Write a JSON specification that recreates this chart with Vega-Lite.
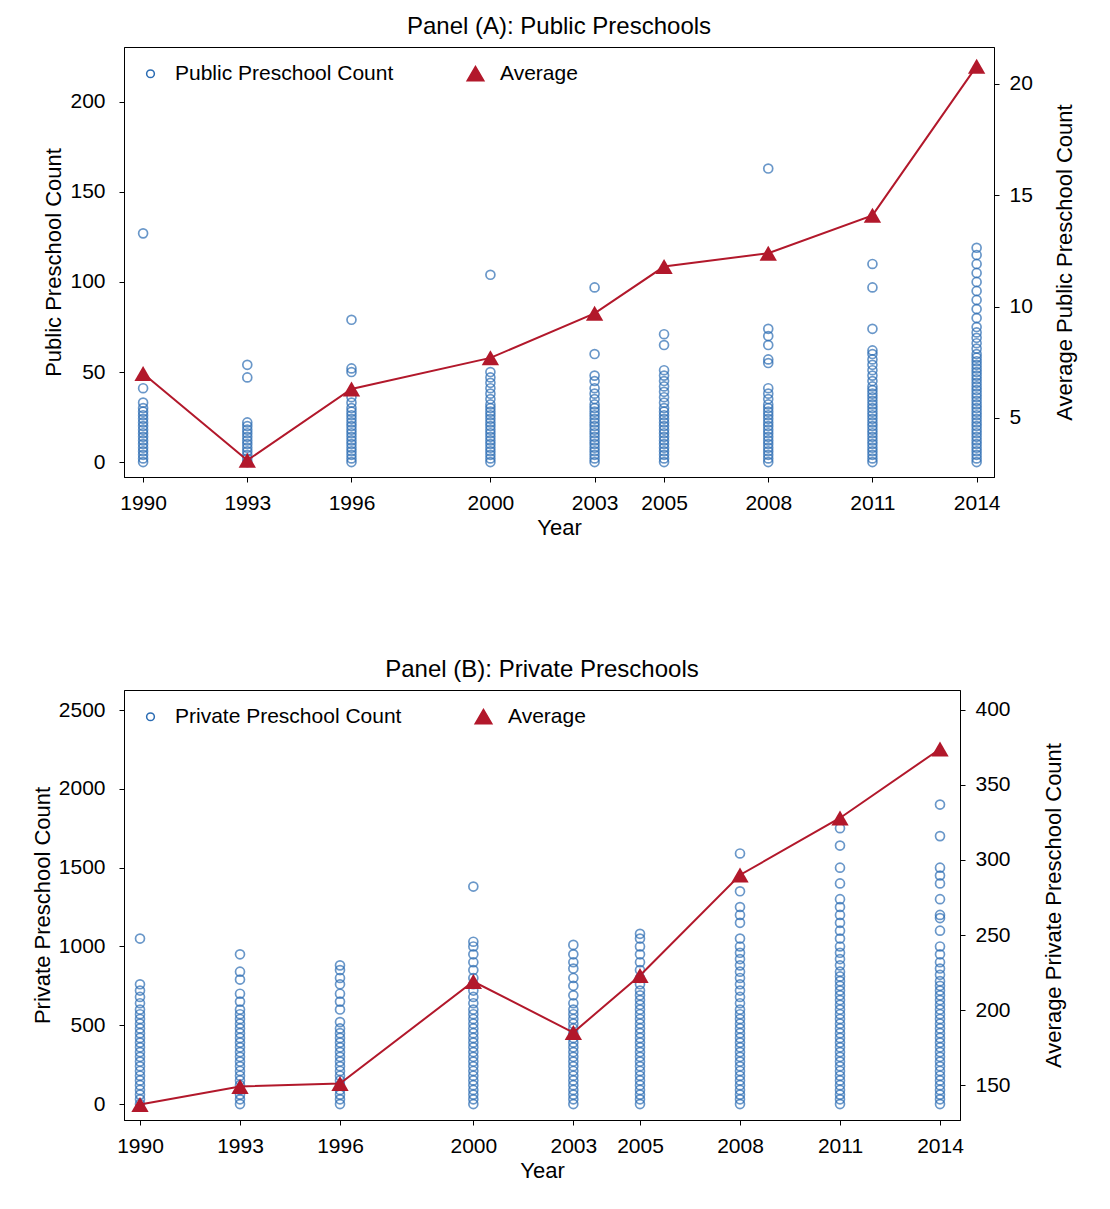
{
  "$schema": "https://vega.github.io/schema/vega-lite/v6.json",
  "background": "white",
  "padding": {"left": 30, "top": 14, "right": 5, "bottom": 5},
  "config": {
    "font": "Liberation Sans",
    "view": {"stroke": "black", "strokeWidth": 1},
    "axis": {"grid": false, "labelFontSize": 21, "titleFontSize": 22, "titleFontWeight": "normal", "labelColor": "black", "titleColor": "black", "domainColor": "black", "tickColor": "black", "labelFont": "Liberation Sans", "titleFont": "Liberation Sans", "format": "d"},
    "title": {"fontSize": 22, "fontWeight": "normal", "font": "Liberation Sans"},
    "legend": {"labelFontSize": 21, "labelFont": "Liberation Sans", "labelColor": "black", "labelLimit": 400, "symbolOpacity": 1, "symbolStrokeWidth": 1.5,
      "symbolSize": 250, "columnPadding": 70, "labelOffset": 14, "title": null, "orient": "top-left", "direction": "horizontal", "offset": 16}
  },
  "datasets": {
    "pub": [
      {"year":1990,"n":0},{"year":1990,"n":2},{"year":1990,"n":4},{"year":1990,"n":6},{"year":1990,"n":8},{"year":1990,"n":10},{"year":1990,"n":12},{"year":1990,"n":14},{"year":1990,"n":16},{"year":1990,"n":18},{"year":1990,"n":20},{"year":1990,"n":22},{"year":1990,"n":24},{"year":1990,"n":26},{"year":1990,"n":28},{"year":1990,"n":30},{"year":1990,"n":33},{"year":1990,"n":41},{"year":1990,"n":127},
      {"year":1993,"n":0},{"year":1993,"n":2},{"year":1993,"n":4},{"year":1993,"n":6},{"year":1993,"n":8},{"year":1993,"n":10},{"year":1993,"n":12},{"year":1993,"n":14},{"year":1993,"n":16},{"year":1993,"n":18},{"year":1993,"n":20},{"year":1993,"n":22},{"year":1993,"n":47},{"year":1993,"n":54},
      {"year":1996,"n":0},{"year":1996,"n":2},{"year":1996,"n":4},{"year":1996,"n":6},{"year":1996,"n":8},{"year":1996,"n":10},{"year":1996,"n":12},{"year":1996,"n":14},{"year":1996,"n":16},{"year":1996,"n":18},{"year":1996,"n":20},{"year":1996,"n":22},{"year":1996,"n":24},{"year":1996,"n":26},{"year":1996,"n":28},{"year":1996,"n":30},{"year":1996,"n":33},{"year":1996,"n":36},{"year":1996,"n":50},{"year":1996,"n":52},{"year":1996,"n":79},
      {"year":2000,"n":0},{"year":2000,"n":2},{"year":2000,"n":4},{"year":2000,"n":6},{"year":2000,"n":8},{"year":2000,"n":10},{"year":2000,"n":12},{"year":2000,"n":14},{"year":2000,"n":16},{"year":2000,"n":18},{"year":2000,"n":20},{"year":2000,"n":22},{"year":2000,"n":24},{"year":2000,"n":26},{"year":2000,"n":28},{"year":2000,"n":30},{"year":2000,"n":32},{"year":2000,"n":35},{"year":2000,"n":38},{"year":2000,"n":41},{"year":2000,"n":44},{"year":2000,"n":47},{"year":2000,"n":50},{"year":2000,"n":104},
      {"year":2003,"n":0},{"year":2003,"n":2},{"year":2003,"n":4},{"year":2003,"n":6},{"year":2003,"n":8},{"year":2003,"n":10},{"year":2003,"n":12},{"year":2003,"n":14},{"year":2003,"n":16},{"year":2003,"n":18},{"year":2003,"n":20},{"year":2003,"n":22},{"year":2003,"n":24},{"year":2003,"n":26},{"year":2003,"n":28},{"year":2003,"n":30},{"year":2003,"n":32},{"year":2003,"n":35},{"year":2003,"n":38},{"year":2003,"n":41},{"year":2003,"n":45},{"year":2003,"n":48},{"year":2003,"n":60},{"year":2003,"n":97},
      {"year":2005,"n":0},{"year":2005,"n":2},{"year":2005,"n":4},{"year":2005,"n":6},{"year":2005,"n":8},{"year":2005,"n":10},{"year":2005,"n":12},{"year":2005,"n":14},{"year":2005,"n":16},{"year":2005,"n":18},{"year":2005,"n":20},{"year":2005,"n":22},{"year":2005,"n":24},{"year":2005,"n":26},{"year":2005,"n":28},{"year":2005,"n":30},{"year":2005,"n":33},{"year":2005,"n":36},{"year":2005,"n":39},{"year":2005,"n":42},{"year":2005,"n":45},{"year":2005,"n":48},{"year":2005,"n":51},{"year":2005,"n":65},{"year":2005,"n":71},
      {"year":2008,"n":0},{"year":2008,"n":2},{"year":2008,"n":4},{"year":2008,"n":6},{"year":2008,"n":8},{"year":2008,"n":10},{"year":2008,"n":12},{"year":2008,"n":14},{"year":2008,"n":16},{"year":2008,"n":18},{"year":2008,"n":20},{"year":2008,"n":22},{"year":2008,"n":24},{"year":2008,"n":26},{"year":2008,"n":28},{"year":2008,"n":30},{"year":2008,"n":32},{"year":2008,"n":35},{"year":2008,"n":38},{"year":2008,"n":41},{"year":2008,"n":55},{"year":2008,"n":57},{"year":2008,"n":65},{"year":2008,"n":70},{"year":2008,"n":74},{"year":2008,"n":163},
      {"year":2011,"n":0},{"year":2011,"n":2},{"year":2011,"n":4},{"year":2011,"n":6},{"year":2011,"n":8},{"year":2011,"n":10},{"year":2011,"n":12},{"year":2011,"n":14},{"year":2011,"n":16},{"year":2011,"n":18},{"year":2011,"n":20},{"year":2011,"n":22},{"year":2011,"n":24},{"year":2011,"n":26},{"year":2011,"n":28},{"year":2011,"n":30},{"year":2011,"n":32},{"year":2011,"n":34},{"year":2011,"n":36},{"year":2011,"n":38},{"year":2011,"n":40},{"year":2011,"n":42},{"year":2011,"n":45},{"year":2011,"n":48},{"year":2011,"n":51},{"year":2011,"n":54},{"year":2011,"n":57},{"year":2011,"n":60},{"year":2011,"n":62},{"year":2011,"n":74},{"year":2011,"n":97},{"year":2011,"n":110},
      {"year":2014,"n":0},{"year":2014,"n":2},{"year":2014,"n":4},{"year":2014,"n":6},{"year":2014,"n":8},{"year":2014,"n":10},{"year":2014,"n":12},{"year":2014,"n":14},{"year":2014,"n":16},{"year":2014,"n":18},{"year":2014,"n":20},{"year":2014,"n":22},{"year":2014,"n":24},{"year":2014,"n":26},{"year":2014,"n":28},{"year":2014,"n":30},{"year":2014,"n":32},{"year":2014,"n":34},{"year":2014,"n":36},{"year":2014,"n":38},{"year":2014,"n":40},{"year":2014,"n":42},{"year":2014,"n":44},{"year":2014,"n":46},{"year":2014,"n":48},{"year":2014,"n":50},{"year":2014,"n":52},{"year":2014,"n":54},{"year":2014,"n":56},{"year":2014,"n":58},{"year":2014,"n":60},{"year":2014,"n":63},{"year":2014,"n":66},{"year":2014,"n":69},{"year":2014,"n":72},{"year":2014,"n":75},{"year":2014,"n":80},{"year":2014,"n":85},{"year":2014,"n":90},{"year":2014,"n":95},{"year":2014,"n":100},{"year":2014,"n":105},{"year":2014,"n":110},{"year":2014,"n":115},{"year":2014,"n":119}
    ],
    "pubAvg": [
      {"year":1990,"avg":7.0},{"year":1993,"avg":3.1},{"year":1996,"avg":6.3},{"year":2000,"avg":7.7},{"year":2003,"avg":9.7},{"year":2005,"avg":11.8},{"year":2008,"avg":12.4},{"year":2011,"avg":14.1},{"year":2014,"avg":20.8}
    ],
    "priv": [
      {"year":1990,"n":0},{"year":1990,"n":30},{"year":1990,"n":60},{"year":1990,"n":90},{"year":1990,"n":120},{"year":1990,"n":150},{"year":1990,"n":180},{"year":1990,"n":210},{"year":1990,"n":240},{"year":1990,"n":270},{"year":1990,"n":300},{"year":1990,"n":330},{"year":1990,"n":360},{"year":1990,"n":390},{"year":1990,"n":420},{"year":1990,"n":450},{"year":1990,"n":480},{"year":1990,"n":510},{"year":1990,"n":540},{"year":1990,"n":570},{"year":1990,"n":600},{"year":1990,"n":640},{"year":1990,"n":680},{"year":1990,"n":720},{"year":1990,"n":760},{"year":1990,"n":1050},
      {"year":1993,"n":0},{"year":1993,"n":30},{"year":1993,"n":60},{"year":1993,"n":90},{"year":1993,"n":120},{"year":1993,"n":150},{"year":1993,"n":180},{"year":1993,"n":210},{"year":1993,"n":240},{"year":1993,"n":270},{"year":1993,"n":300},{"year":1993,"n":330},{"year":1993,"n":360},{"year":1993,"n":390},{"year":1993,"n":420},{"year":1993,"n":450},{"year":1993,"n":480},{"year":1993,"n":510},{"year":1993,"n":540},{"year":1993,"n":570},{"year":1993,"n":600},{"year":1993,"n":650},{"year":1993,"n":700},{"year":1993,"n":790},{"year":1993,"n":840},{"year":1993,"n":950},
      {"year":1996,"n":0},{"year":1996,"n":30},{"year":1996,"n":60},{"year":1996,"n":90},{"year":1996,"n":120},{"year":1996,"n":150},{"year":1996,"n":180},{"year":1996,"n":210},{"year":1996,"n":240},{"year":1996,"n":270},{"year":1996,"n":300},{"year":1996,"n":330},{"year":1996,"n":360},{"year":1996,"n":390},{"year":1996,"n":420},{"year":1996,"n":450},{"year":1996,"n":480},{"year":1996,"n":520},{"year":1996,"n":600},{"year":1996,"n":650},{"year":1996,"n":700},{"year":1996,"n":760},{"year":1996,"n":800},{"year":1996,"n":850},{"year":1996,"n":880},
      {"year":2000,"n":0},{"year":2000,"n":30},{"year":2000,"n":60},{"year":2000,"n":90},{"year":2000,"n":120},{"year":2000,"n":150},{"year":2000,"n":180},{"year":2000,"n":210},{"year":2000,"n":240},{"year":2000,"n":270},{"year":2000,"n":300},{"year":2000,"n":330},{"year":2000,"n":360},{"year":2000,"n":390},{"year":2000,"n":420},{"year":2000,"n":450},{"year":2000,"n":480},{"year":2000,"n":510},{"year":2000,"n":540},{"year":2000,"n":570},{"year":2000,"n":600},{"year":2000,"n":640},{"year":2000,"n":680},{"year":2000,"n":720},{"year":2000,"n":760},{"year":2000,"n":800},{"year":2000,"n":850},{"year":2000,"n":900},{"year":2000,"n":950},{"year":2000,"n":1000},{"year":2000,"n":1030},{"year":2000,"n":1380},
      {"year":2003,"n":0},{"year":2003,"n":30},{"year":2003,"n":60},{"year":2003,"n":90},{"year":2003,"n":120},{"year":2003,"n":150},{"year":2003,"n":180},{"year":2003,"n":210},{"year":2003,"n":240},{"year":2003,"n":270},{"year":2003,"n":300},{"year":2003,"n":330},{"year":2003,"n":360},{"year":2003,"n":390},{"year":2003,"n":420},{"year":2003,"n":450},{"year":2003,"n":480},{"year":2003,"n":510},{"year":2003,"n":540},{"year":2003,"n":570},{"year":2003,"n":600},{"year":2003,"n":640},{"year":2003,"n":690},{"year":2003,"n":750},{"year":2003,"n":800},{"year":2003,"n":860},{"year":2003,"n":900},{"year":2003,"n":950},{"year":2003,"n":1010},
      {"year":2005,"n":0},{"year":2005,"n":30},{"year":2005,"n":60},{"year":2005,"n":90},{"year":2005,"n":120},{"year":2005,"n":150},{"year":2005,"n":180},{"year":2005,"n":210},{"year":2005,"n":240},{"year":2005,"n":270},{"year":2005,"n":300},{"year":2005,"n":330},{"year":2005,"n":360},{"year":2005,"n":390},{"year":2005,"n":420},{"year":2005,"n":450},{"year":2005,"n":480},{"year":2005,"n":510},{"year":2005,"n":540},{"year":2005,"n":570},{"year":2005,"n":600},{"year":2005,"n":630},{"year":2005,"n":660},{"year":2005,"n":690},{"year":2005,"n":720},{"year":2005,"n":760},{"year":2005,"n":800},{"year":2005,"n":850},{"year":2005,"n":900},{"year":2005,"n":950},{"year":2005,"n":1000},{"year":2005,"n":1050},{"year":2005,"n":1080},
      {"year":2008,"n":0},{"year":2008,"n":30},{"year":2008,"n":60},{"year":2008,"n":90},{"year":2008,"n":120},{"year":2008,"n":150},{"year":2008,"n":180},{"year":2008,"n":210},{"year":2008,"n":240},{"year":2008,"n":270},{"year":2008,"n":300},{"year":2008,"n":330},{"year":2008,"n":360},{"year":2008,"n":390},{"year":2008,"n":420},{"year":2008,"n":450},{"year":2008,"n":480},{"year":2008,"n":510},{"year":2008,"n":540},{"year":2008,"n":570},{"year":2008,"n":600},{"year":2008,"n":640},{"year":2008,"n":680},{"year":2008,"n":720},{"year":2008,"n":760},{"year":2008,"n":800},{"year":2008,"n":840},{"year":2008,"n":880},{"year":2008,"n":920},{"year":2008,"n":960},{"year":2008,"n":1000},{"year":2008,"n":1050},{"year":2008,"n":1150},{"year":2008,"n":1200},{"year":2008,"n":1250},{"year":2008,"n":1350},{"year":2008,"n":1590},
      {"year":2011,"n":0},{"year":2011,"n":30},{"year":2011,"n":60},{"year":2011,"n":90},{"year":2011,"n":120},{"year":2011,"n":150},{"year":2011,"n":180},{"year":2011,"n":210},{"year":2011,"n":240},{"year":2011,"n":270},{"year":2011,"n":300},{"year":2011,"n":330},{"year":2011,"n":360},{"year":2011,"n":390},{"year":2011,"n":420},{"year":2011,"n":450},{"year":2011,"n":480},{"year":2011,"n":510},{"year":2011,"n":540},{"year":2011,"n":570},{"year":2011,"n":600},{"year":2011,"n":630},{"year":2011,"n":660},{"year":2011,"n":690},{"year":2011,"n":720},{"year":2011,"n":750},{"year":2011,"n":780},{"year":2011,"n":810},{"year":2011,"n":840},{"year":2011,"n":880},{"year":2011,"n":920},{"year":2011,"n":960},{"year":2011,"n":1000},{"year":2011,"n":1050},{"year":2011,"n":1100},{"year":2011,"n":1150},{"year":2011,"n":1200},{"year":2011,"n":1250},{"year":2011,"n":1300},{"year":2011,"n":1400},{"year":2011,"n":1500},{"year":2011,"n":1640},{"year":2011,"n":1750},
      {"year":2014,"n":0},{"year":2014,"n":30},{"year":2014,"n":60},{"year":2014,"n":90},{"year":2014,"n":120},{"year":2014,"n":150},{"year":2014,"n":180},{"year":2014,"n":210},{"year":2014,"n":240},{"year":2014,"n":270},{"year":2014,"n":300},{"year":2014,"n":330},{"year":2014,"n":360},{"year":2014,"n":390},{"year":2014,"n":420},{"year":2014,"n":450},{"year":2014,"n":480},{"year":2014,"n":510},{"year":2014,"n":540},{"year":2014,"n":570},{"year":2014,"n":600},{"year":2014,"n":630},{"year":2014,"n":660},{"year":2014,"n":690},{"year":2014,"n":720},{"year":2014,"n":750},{"year":2014,"n":780},{"year":2014,"n":820},{"year":2014,"n":860},{"year":2014,"n":900},{"year":2014,"n":950},{"year":2014,"n":1000},{"year":2014,"n":1100},{"year":2014,"n":1180},{"year":2014,"n":1200},{"year":2014,"n":1300},{"year":2014,"n":1400},{"year":2014,"n":1450},{"year":2014,"n":1500},{"year":2014,"n":1700},{"year":2014,"n":1900}
    ],
    "privAvg": [
      {"year":1990,"avg":137},{"year":1993,"avg":149},{"year":1996,"avg":151},{"year":2000,"avg":219},{"year":2003,"avg":185},{"year":2005,"avg":223},{"year":2008,"avg":290},{"year":2011,"avg":328},{"year":2014,"avg":374}
    ]
  },
  "vconcat": [
    {
      "title": {"text": "Panel (A): Public Preschools", "offset": 8, "fontSize": 24},
      "width": 870,
      "height": 430,
      "encoding": {
        "x": {"field": "year", "type": "quantitative", "title": "Year",
          "scale": {"domain": [1989.45, 2014.5], "nice": false, "zero": false},
          "axis": {"values": [1990,1993,1996,2000,2003,2005,2008,2011,2014], "labelOverlap": false, "labelPadding": 10}}
      },
      "layer": [
        {
          "data": {"name": "pub"},
          "mark": {"type": "point", "filled": false, "size": 80, "strokeWidth": 1.7},
          "encoding": {
            "y": {"field": "n", "type": "quantitative", "title": "Public Preschool Count",
              "scale": {"domain": [-8.3, 230.5], "nice": false, "zero": false},
              "axis": {"values": [0,50,100,150,200], "labelPadding": 14}},
            "color": {"datum": "Public Preschool Count", "type": "nominal",
              "scale": {"domain": ["Public Preschool Count", "Average"], "range": ["#2b6cb3", "#b2182b"]},
              "legend": {"encode": {"symbols": {"update": {
                "fillOpacity": {"signal": "datum.label === 'Average' ? 1 : 0"},
                "size": {"signal": "datum.label === 'Average' ? 280 : 60"}}}}}},
            "shape": {"datum": "Public Preschool Count", "type": "nominal",
              "scale": {"domain": ["Public Preschool Count", "Average"], "range": ["circle", "triangle-up"]},
              "legend": {"encode": {"symbols": {"update": {
                "fillOpacity": {"signal": "datum.label === 'Average' ? 1 : 0"},
                "size": {"signal": "datum.label === 'Average' ? 280 : 60"}}}}}}
          }
        },
        {
          "data": {"name": "pubAvg"},
          "encoding": {
            "y": {"field": "avg", "type": "quantitative", "title": "Average Public Preschool Count",
              "scale": {"domain": [2.35, 21.66], "nice": false, "zero": false},
              "axis": {"orient": "right", "values": [5,10,15,20], "labelPadding": 10, "titleAngle": 270, "titlePadding": 44}}
          },
          "layer": [
            {"mark": {"type": "line", "color": "#b2182b", "strokeWidth": 2}},
            {"mark": {"type": "point", "filled": true, "size": 300, "opacity": 1},
              "encoding": {
                "color": {"datum": "Average", "type": "nominal",
                  "legend": {"encode": {"symbols": {"update": {
                    "fillOpacity": {"signal": "datum.label === 'Average' ? 1 : 0"},
                    "size": {"signal": "datum.label === 'Average' ? 280 : 60"}}}}}},
                "shape": {"datum": "Average", "type": "nominal",
                  "legend": {"encode": {"symbols": {"update": {
                    "fillOpacity": {"signal": "datum.label === 'Average' ? 1 : 0"},
                    "size": {"signal": "datum.label === 'Average' ? 280 : 60"}}}}}}
              }}
          ]
        }
      ],
      "resolve": {"scale": {"y": "independent"}}
    },
    {
      "title": {"text": "Panel (B): Private Preschools", "offset": 8, "fontSize": 24},
      "width": 836,
      "height": 430,
      "encoding": {
        "x": {"field": "year", "type": "quantitative", "title": "Year",
          "scale": {"domain": [1989.52, 2014.6], "nice": false, "zero": false},
          "axis": {"values": [1990,1993,1996,2000,2003,2005,2008,2011,2014], "labelOverlap": false, "labelPadding": 10}}
      },
      "layer": [
        {
          "data": {"name": "priv"},
          "mark": {"type": "point", "filled": false, "size": 80, "strokeWidth": 1.7},
          "encoding": {
            "y": {"field": "n", "type": "quantitative", "title": "Private Preschool Count",
              "scale": {"domain": [-101, 2627], "nice": false, "zero": false},
              "axis": {"values": [0,500,1000,1500,2000,2500], "labelPadding": 14}},
            "color": {"datum": "Private Preschool Count", "type": "nominal",
              "scale": {"domain": ["Private Preschool Count", "Average"], "range": ["#2b6cb3", "#b2182b"]},
              "legend": {"encode": {"symbols": {"update": {
                "fillOpacity": {"signal": "datum.label === 'Average' ? 1 : 0"},
                "size": {"signal": "datum.label === 'Average' ? 280 : 60"}}}}}},
            "shape": {"datum": "Private Preschool Count", "type": "nominal",
              "scale": {"domain": ["Private Preschool Count", "Average"], "range": ["circle", "triangle-up"]},
              "legend": {"encode": {"symbols": {"update": {
                "fillOpacity": {"signal": "datum.label === 'Average' ? 1 : 0"},
                "size": {"signal": "datum.label === 'Average' ? 280 : 60"}}}}}}
          }
        },
        {
          "data": {"name": "privAvg"},
          "encoding": {
            "y": {"field": "avg", "type": "quantitative", "title": "Average Private Preschool Count",
              "scale": {"domain": [126.7, 413.3], "nice": false, "zero": false},
              "axis": {"orient": "right", "values": [150,200,250,300,350,400], "labelPadding": 10, "titleAngle": 270, "titlePadding": 55}}
          },
          "layer": [
            {"mark": {"type": "line", "color": "#b2182b", "strokeWidth": 2}},
            {"mark": {"type": "point", "filled": true, "size": 300, "opacity": 1},
              "encoding": {
                "color": {"datum": "Average", "type": "nominal",
                  "legend": {"encode": {"symbols": {"update": {
                    "fillOpacity": {"signal": "datum.label === 'Average' ? 1 : 0"},
                    "size": {"signal": "datum.label === 'Average' ? 280 : 60"}}}}}},
                "shape": {"datum": "Average", "type": "nominal",
                  "legend": {"encode": {"symbols": {"update": {
                    "fillOpacity": {"signal": "datum.label === 'Average' ? 1 : 0"},
                    "size": {"signal": "datum.label === 'Average' ? 280 : 60"}}}}}}
              }}
          ]
        }
      ],
      "resolve": {"scale": {"y": "independent"}}
    }
  ],
  "resolve": {"scale": {"color": "independent", "shape": "independent"}},
  "spacing": 118
}
